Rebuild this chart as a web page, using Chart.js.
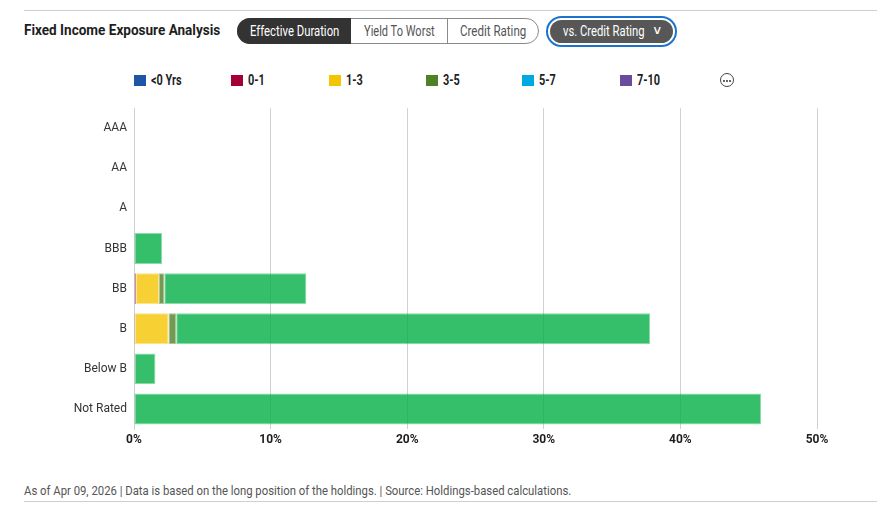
<!DOCTYPE html>
<html>
<head>
<meta charset="utf-8">
<script src="https://cdn.jsdelivr.net/npm/chart.js@4/dist/chart.umd.min.js"></script>
<style>
  body { margin: 0; width: 877px; height: 507px; background: #fff; position: relative; overflow: hidden;
    font-family: Roboto, "Liberation Sans", sans-serif; color: #1e1e1e; }
  .abs { position: absolute; }
  .rule { position: absolute; left: 24px; right: 0; height: 1px; background: #cfcfcf; }
  .txt { position: absolute; white-space: nowrap; transform-origin: left center; line-height: 16px; }
  .group { left: 237px; top: 18px; width: 300px; height: 24px; border: 1px solid #8a8a8a; border-radius: 13px; }
  .active { left: 237px; top: 18px; width: 114px; height: 26px; background: #333; border-radius: 13px 0 0 13px; }
  .div { top: 19px; width: 1px; height: 24px; background: #8a8a8a; }
  .ring { left: 546px; top: 16px; width: 127px; height: 27px; border: 2px solid #1a74cc; border-radius: 16px; }
  .pill { left: 550px; top: 20px; width: 123px; height: 23px; background: #575757; border-radius: 12px; }
  .sq { position: absolute; top: 75px; width: 12px; height: 11px; }
  .more { left: 720px; top: 73px; width: 12px; height: 12px; border: 1px solid #444; border-radius: 50%; }
  .dot { position: absolute; top: 6px; width: 2px; height: 2px; background: #333; border-radius: 1px; }
  #wrap { position: absolute; left: 0; top: 94px; width: 877px; height: 366px; }
</style>
</head>
<body>
<div class="rule" style="top:10px"></div>
<span class="txt" data-w="196" style="left:24px;top:22px;font-size:15px;font-weight:bold;">Fixed Income Exposure Analysis</span>

<div class="abs group"></div>
<div class="abs active"></div>
<div class="abs div" style="left:447px"></div>
<span class="txt" data-w="89" style="left:250px;top:23px;font-size:14px;color:#fff;">Effective Duration</span>
<span class="txt" data-w="71" style="left:364px;top:23px;font-size:14px;color:#555;">Yield To Worst</span>
<span class="txt" data-w="66" style="left:460px;top:23px;font-size:14px;color:#555;">Credit Rating</span>

<div class="abs ring"></div>
<div class="abs pill"></div>
<span class="txt" data-w="82" style="left:563px;top:23px;font-size:14px;color:#fff;">vs. Credit Rating</span>
<span class="txt" style="left:652px;top:22px;font-size:12px;color:#fff;transform:scaleX(1.2);">&#8744;</span>

<div id="legend"></div>
<div class="abs more"><div class="dot" style="left:2px"></div><div class="dot" style="left:5px"></div><div class="dot" style="left:8px"></div></div>

<div id="wrap"><canvas id="chart"></canvas></div>

<span class="txt" data-w="547" style="left:24px;top:483px;font-size:13px;color:#555;">As of Apr 09, 2026 | Data is based on the long position of the holdings. | Source: Holdings-based calculations.</span>
<div class="rule" style="top:501px"></div>

<script>
// credit rating rows
const ratings = ['AAA', 'AA', 'A', 'BBB', 'BB', 'B', 'Below B', 'Not Rated'];

// % of holdings per effective duration bucket
const durLt0 = [0, 0, 0, 0, 0, 0, 0, 0];
const dur0to1 = [0, 0, 0, 0, 0.15, 0.07, 0, 0];
const dur1to3 = [0, 0, 0, 0, 1.68, 2.46, 0, 0];
const dur3to5 = [0, 0, 0, 0, 0.39, 0.56, 0.05, 0];
const dur5to7 = [0, 0, 0, 0, 0, 0, 0, 0];
const dur7to10 = [0, 0, 0, 0, 0, 0, 0, 0];
const durOther = [0, 0, 0, 2.05, 10.4, 34.7, 1.52, 45.9];

const xTicks = [0, 10, 20, 30, 40, 50];

const series = [
  { label: '<0 Yrs', data: durLt0, color: [31, 85, 165] },
  { label: '0-1', data: dur0to1, color: [165, 0, 52] },
  { label: '1-3', data: dur1to3, color: [245, 196, 0] },
  { label: '3-5', data: dur3to5, color: [80, 129, 39] },
  { label: '5-7', data: dur5to7, color: [0, 169, 224] },
  { label: '7-10', data: dur7to10, color: [106, 76, 156] },
  { label: 'Other', data: durOther, color: [3, 175, 69] }
];

// html legend, only the first six buckets are shown
const legendX = [134, 231, 329, 426, 522, 620];
const legend = document.getElementById('legend');
series.slice(0, 6).forEach((s, i) => {
  const sq = document.createElement('div');
  sq.className = 'sq';
  sq.style.left = legendX[i] + 'px';
  sq.style.background = 'rgb(' + s.color.join(',') + ')';
  legend.appendChild(sq);
  const t = document.createElement('span');
  t.className = 'txt';
  t.style.cssText = 'left:' + (legendX[i] + 17) + 'px;top:72px;font-size:14px;font-weight:bold;transform:scaleX(0.78);';
  t.textContent = s.label;
  legend.appendChild(t);
});

// squeeze text to the condensed widths of the original
document.querySelectorAll('[data-w]').forEach((el) => {
  el.style.transform = 'scaleX(' + (el.dataset.w / el.offsetWidth) + ')';
});

const rgba = (c, a) => 'rgba(' + c.join(',') + ',' + a + ')';
const fam = 'Roboto, sans-serif';

const ctx = document.getElementById('chart').getContext('2d');
new Chart(ctx, {
  type: 'bar',
  data: {
    labels: ratings,
    datasets: series.map((s) => ({
      label: s.label,
      data: s.data,
      backgroundColor: rgba(s.color, 0.8),
      borderColor: rgba(s.color, 0.45),
      borderWidth: 1,
      borderSkipped: false,
      categoryPercentage: 0.77,
      barPercentage: 1
    }))
  },
  options: {
    indexAxis: 'y',
    responsive: true,
    maintainAspectRatio: false,
    animation: false,
    layout: { padding: { top: 1, right: 60, bottom: 0, left: 0 } },
    plugins: { legend: { display: false }, tooltip: { enabled: false } },
    scales: {
      x: {
        stacked: true,
        min: 0,
        max: 50,
        afterBuildTicks: (axis) => { axis.ticks = xTicks.map((v) => ({ value: v })); },
        afterFit: (axis) => { axis.height = 31; },
        grid: { color: '#d0d0d0', drawTicks: false },
        border: { display: false },
        ticks: {
          padding: 4,
          color: '#1e1e1e',
          font: { family: fam, size: 12, weight: 'bold' },
          callback: (v) => v + '%'
        }
      },
      y: {
        stacked: true,
        afterFit: (axis) => { axis.width = 134; },
        grid: { display: false, drawTicks: false },
        border: { display: true, color: '#d0d0d0' },
        ticks: {
          padding: 7,
          color: '#333',
          font: { family: fam, size: 12 }
        }
      }
    }
  }
});
</script>
</body>
</html>
